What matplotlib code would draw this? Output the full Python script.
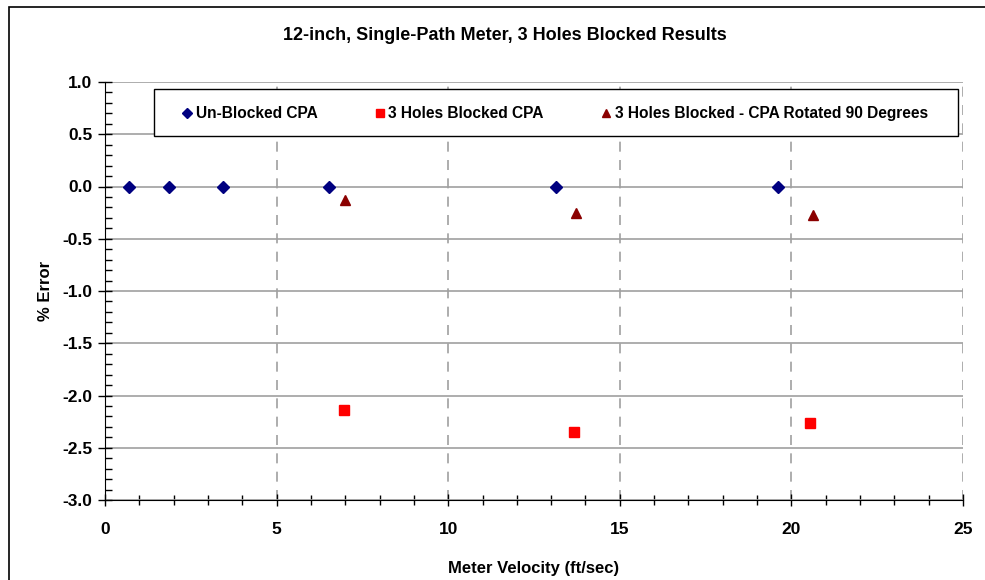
import matplotlib
matplotlib.use("Agg")
import matplotlib.pyplot as plt
from matplotlib.patches import Rectangle
from matplotlib.ticker import MultipleLocator

plt.rcParams['font.family'] = ['Liberation Sans', 'DejaVu Sans']
plt.rcParams['font.weight'] = 'bold'

# data
unblocked_x = [0.70, 1.86, 3.44, 6.53, 13.14, 19.61]
unblocked_y = [0.0, 0.0, 0.0, 0.0, 0.0, 0.0]
blocked_x = [6.96, 13.67, 20.54]
blocked_y = [-2.14, -2.35, -2.26]
rotated_x = [6.99, 13.72, 20.63]
rotated_y = [-0.13, -0.25, -0.27]

x_ticks = [0, 5, 10, 15, 20, 25]
y_ticks = [-3.0, -2.5, -2.0, -1.5, -1.0, -0.5, 0.0, 0.5, 1.0]

W, H = 985, 580
fig = plt.figure(figsize=(9.85, 5.8), dpi=100)
ax = fig.add_axes([105 / W, 1 - 500 / H, (963 - 105) / W, (500 - 82) / H])

# outer chart border
fig.patches.append(Rectangle((9 / W, -0.1), 1.2, 1 - 7 / H + 0.1,
                             transform=fig.transFigure, fill=False,
                             edgecolor='black', linewidth=1.2))

ax.plot(unblocked_x, unblocked_y, linestyle='none', marker='D', markersize=6,
        color='#000080', label='Un-Blocked CPA', zorder=3)
ax.plot(blocked_x, blocked_y, linestyle='none', marker='s', markersize=6.5,
        color='#ff0000', label='3 Holes Blocked CPA', zorder=3)
ax.plot(rotated_x, rotated_y, linestyle='none', marker='^', markersize=6.5,
        color='#8b0000', label='3 Holes Blocked - CPA Rotated 90 Degrees', zorder=3)

ax.set_xlim(0, 25)
ax.set_ylim(-3.0, 1.0)
ax.set_xticks(x_ticks)
ax.set_xticklabels([str(v) for v in x_ticks])
ax.set_yticks(y_ticks)
ax.set_yticklabels([f"{v:.1f}" for v in y_ticks])
ax.xaxis.set_minor_locator(MultipleLocator(1))
ax.yaxis.set_minor_locator(MultipleLocator(0.1))

ax.tick_params(axis='x', which='major', direction='inout', length=8, width=1,
               labelsize=12.5, pad=12)
ax.tick_params(axis='x', which='minor', direction='inout', length=7, width=1)
ax.tick_params(axis='y', which='major', direction='inout', length=10, width=1,
               labelsize=12.5, pad=4)
ax.tick_params(axis='y', which='minor', direction='in', length=5, width=1)

# gridlines: solid horizontals, dashed verticals
ax.grid(True, axis='y', which='major', color='#a0a0a0', linestyle='-', linewidth=1.2)
ax.grid(True, axis='x', which='major', color='#a0a0a0', linestyle=(0, (6, 5)), linewidth=1.2)
ax.set_axisbelow(True)

for side in ['top', 'right']:
    ax.spines[side].set_visible(False)

ax.set_xlabel('Meter Velocity (ft/sec)', fontsize=12, fontweight='bold', labelpad=17)
ax.set_ylabel('% Error', fontsize=12, fontweight='bold', labelpad=7)
fig.text(505 / W, 1 - 36 / H, '12-inch, Single-Path Meter, 3 Holes Blocked Results',
         ha='center', va='center', fontsize=13, fontweight='bold')

# legend box drawn separately so its padding matches the original
ax_w, ax_h = 963 - 105, 500 - 82
ax.add_patch(Rectangle(((154 - 105) / ax_w, 1 - (136 - 82) / ax_h),
                       (958 - 154) / ax_w, (136 - 89) / ax_h,
                       transform=ax.transAxes, facecolor='white',
                       edgecolor='black', linewidth=1.0, zorder=4))
leg = ax.legend(loc='center left',
                bbox_to_anchor=((181 - 105) / ax_w, 1 - (113.5 - 82) / ax_h),
                ncol=3, fontsize=11.2, frameon=False, handletextpad=0.15,
                borderaxespad=0, borderpad=0, handlelength=0.8,
                columnspacing=3.6, markerscale=0.9)
leg.set_zorder(5)

fig.savefig('out.png', dpi=100)
